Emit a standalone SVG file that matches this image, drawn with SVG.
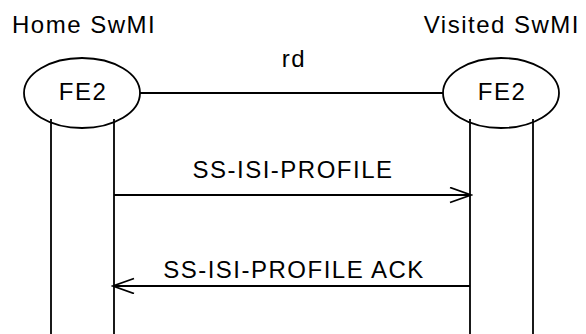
<svg xmlns="http://www.w3.org/2000/svg" width="586" height="334" viewBox="0 0 586 334">
<style>
.t{font-family:"Liberation Sans",Arial,sans-serif;font-size:24px;letter-spacing:1.5px;fill:#000}
.s{stroke:#000;stroke-width:1.8;fill:none}
</style>
<defs>
<marker id="ah" markerWidth="24" markerHeight="18" refX="22" refY="8" orient="auto" markerUnits="userSpaceOnUse">
<path d="M1,0.5 L22,8 L1,15.5" fill="none" stroke="#000" stroke-width="1.8"/>
</marker>
</defs>
<rect width="586" height="334" fill="#fff"/>
<text class="t" x="12" y="33">Home SwMI</text>
<text class="t" x="580" y="33" text-anchor="end">Visited SwMI</text>
<g id="home_fe2">
<ellipse class="s" cx="82" cy="93" rx="58" ry="35"/>
<text class="t" x="83" y="100" text-anchor="middle">FE2</text>
</g>
<g id="visited_fe2">
<ellipse class="s" cx="501" cy="93" rx="58" ry="35"/>
<text class="t" x="502" y="100" text-anchor="middle">FE2</text>
</g>
<g id="connectors">
<line class="s" x1="51" y1="119" x2="51" y2="334"/>
<line class="s" x1="114" y1="119" x2="114" y2="334"/>
<line class="s" x1="470" y1="119" x2="470" y2="334"/>
<line class="s" x1="533" y1="119" x2="533" y2="334"/>
<line class="s" x1="140" y1="93" x2="443" y2="93"/>
<text class="t" x="294" y="67" text-anchor="middle">rd</text>
<line class="s" x1="114" y1="195" x2="471" y2="195" marker-end="url(#ah)"/>
<text class="t" x="293" y="178" text-anchor="middle">SS-ISI-PROFILE</text>
<line class="s" x1="470" y1="286" x2="113" y2="286" marker-end="url(#ah)"/>
<text class="t" x="294" y="278" text-anchor="middle">SS-ISI-PROFILE ACK</text>
</g>
</svg>
